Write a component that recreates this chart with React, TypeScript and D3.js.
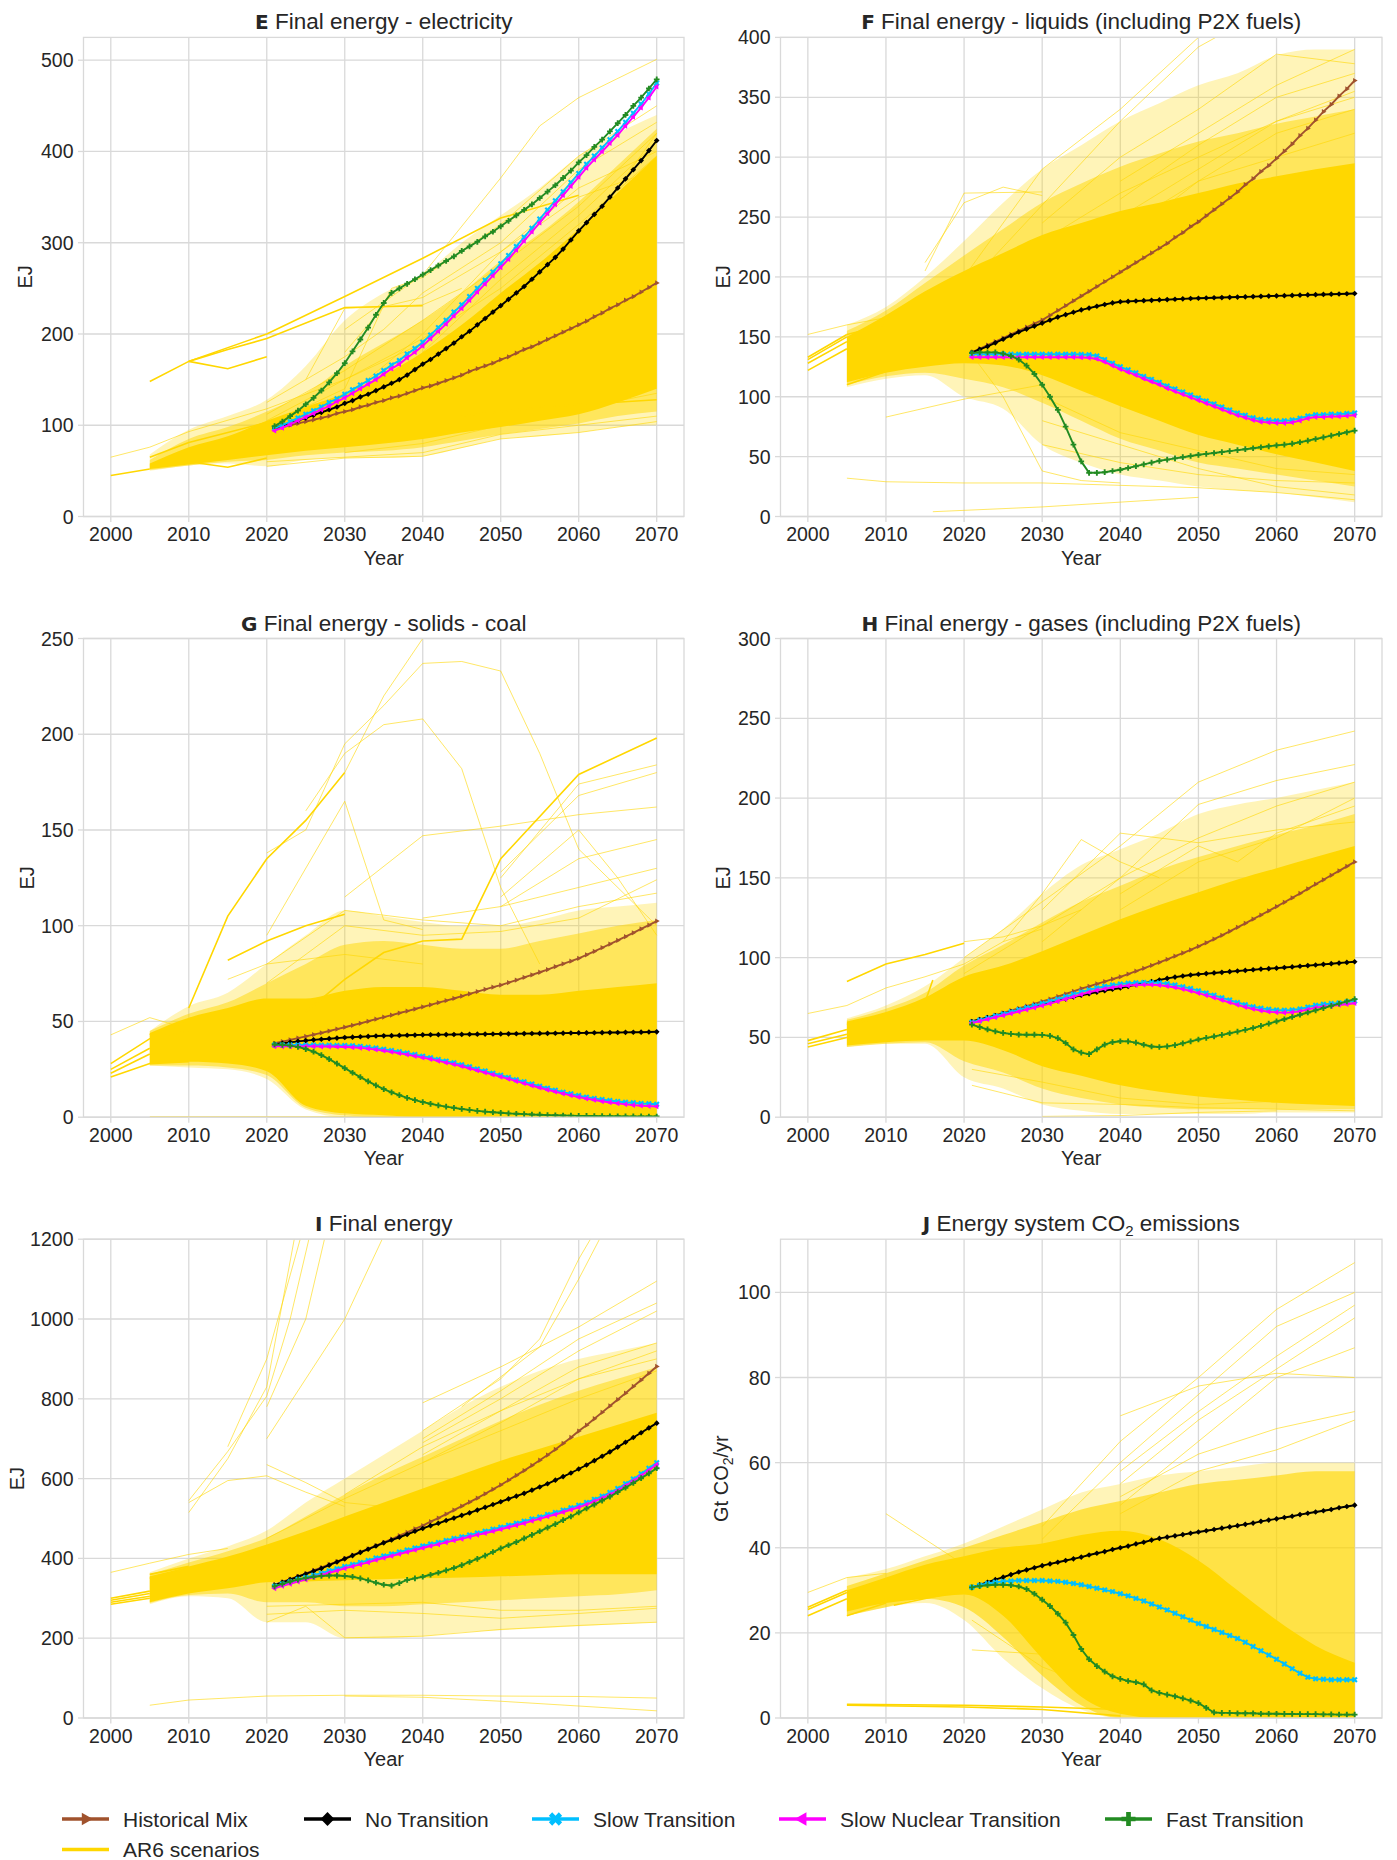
import React from 'react';
import * as d3 from 'd3';

// ---------- shared axes ----------
const PATH_YEARS = d3.range(2021, 2071);
const X_TICKS = [2000, 2010, 2020, 2030, 2040, 2050, 2060, 2070];
const X_DOMAIN: [number, number] = [1996.5, 2073.5];

// ---------- E: electricity ----------
const E_TICKS = [0, 100, 200, 300, 400, 500];
const E_HM = [96,98,100,102,104,106,108,110,113,115,117,120,122,125,127,130,132,135,138,141,143,146,149,152,155,159,162,165,168,172,175,179,183,186,190,194,198,202,206,210,214,219,223,228,232,237,241,246,251,256];
const E_NT = [97,100,102,105,108,111,114,117,120,124,127,131,134,138,142,146,150,155,161,167,172,178,184,190,197,203,210,217,224,231,238,245,252,260,268,276,284,293,303,313,322,331,340,350,360,370,380,390,401,412];
const E_ST = [97,100,104,108,112,116,120,125,129,134,139,144,149,154,160,166,171,178,184,191,199,207,215,224,232,241,250,259,268,277,286,296,306,316,326,336,346,356,366,376,386,395,404,413,422,432,442,452,463,475];
const E_SNT = [94,97,101,105,109,113,117,121,126,130,135,140,145,150,156,162,167,174,180,187,195,203,211,220,228,237,246,255,264,273,282,292,302,312,322,332,342,352,362,372,382,391,400,409,418,428,438,448,459,471];
const E_FT = [99,104,110,116,123,130,138,147,157,168,181,194,207,221,234,245,250,255,260,265,270,275,280,285,291,296,301,307,312,318,324,330,336,342,349,356,363,371,379,388,396,405,413,422,431,440,450,459,469,479];
const E_CORE = [[2005,52,58],[2010,57,76],[2015,62,88],[2020,67,105],[2025,72,120],[2030,76,135],[2035,80,155],[2040,85,180],[2045,92,210],[2050,98,245],[2055,105,278],[2060,112,315],[2065,125,355],[2070,140,395]];
const E_MID = [[2005,51,62],[2010,56,85],[2015,60,98],[2020,62,115],[2025,67,135],[2030,70,165],[2035,72,190],[2040,76,215],[2045,83,245],[2050,90,280],[2055,96,310],[2060,102,345],[2065,110,385],[2070,115,425]];
const E_FRINGE = [[2005,50,68],[2010,56,95],[2015,58,110],[2020,55,128],[2025,62,165],[2030,64,215],[2035,64,245],[2040,66,265],[2045,75,300],[2050,85,330],[2055,88,360],[2060,92,395],[2065,98,420],[2070,100,440]];
const E_STRONG = [
  [[2000,45],[2005,52]],
  [[2005,148],[2010,170],[2020,200],[2030,241],[2040,283],[2050,327],[2060,352]],
  [[2010,170],[2015,162],[2020,175]],
  [[2010,170],[2015,183],[2020,195],[2030,229],[2040,231]],
  [[2005,65],[2010,81],[2015,92],[2020,103]],
  [[2010,60],[2015,54],[2020,64]],
  [[2045,110],[2055,120],[2070,128]],
];
const E_FAINT = [
  [[2000,65],[2005,76],[2010,93],[2020,118],[2030,150],[2040,190]],
  [[2030,205],[2040,265],[2050,371],[2055,428],[2060,459],[2070,501]],
  [[2020,125],[2030,175],[2035,205],[2040,245],[2050,300],[2060,380],[2070,432]],
  [[2020,112],[2030,160],[2040,215],[2050,275],[2060,340],[2070,420]],
  [[2025,150],[2030,228],[2035,230],[2040,232],[2045,250]],
  [[2020,100],[2030,140],[2036,250],[2040,262],[2050,320],[2060,395],[2070,450]],
  [[2020,55],[2030,64],[2040,66],[2050,85],[2060,92],[2070,104]],
  [[2020,60],[2030,65],[2040,70],[2050,90],[2060,100],[2070,110]],
  [[2030,70],[2040,80],[2050,100],[2060,118],[2070,135]],
  [[2040,180],[2050,260],[2060,330],[2070,410]],
  [[2030,130],[2040,200],[2050,290],[2060,350],[2070,380]],
  [[2040,150],[2050,210],[2060,300],[2070,420]],
  [[2050,200],[2060,280],[2070,360]],
  [[2020,105],[2030,150],[2040,195],[2050,250],[2060,320],[2070,395]],
  [[2020,95],[2030,120],[2040,160],[2050,220],[2060,290],[2070,370]],
  [[2030,180],[2035,230],[2040,240],[2050,290],[2060,360],[2070,400]],
];

// ---------- F: liquids ----------
const F_TICKS = [0, 50, 100, 150, 200, 250, 300, 350, 400];
const F_HM = [137,140,143,146,149,152,155,158,161,164,168,172,176,180,184,188,192,196,200,204,208,212,216,220,224,228,233,237,242,246,251,256,261,266,271,277,282,288,293,299,305,311,318,324,331,338,344,351,357,364];
const F_NT = [137,139.5,142,145,148,151,154,156.5,159,161.5,164,166.5,168.5,170.5,172.5,174,175.5,177,178.3,179.3,179.6,179.9,180.2,180.5,180.8,181.1,181.4,181.7,182,182.2,182.4,182.6,182.8,183,183.2,183.4,183.6,183.8,184,184.2,184.4,184.6,184.8,185,185.2,185.4,185.6,185.8,186,186.2];
const F_ST = [135.5,135.5,135.5,135.5,135.5,135.5,135.5,135.5,135.5,135.5,135.5,135.5,135.5,135.5,135.3,135,134,131,128,125,122.5,120,117,114.5,112,109,106.5,104,101.5,99,96.5,94,91.5,89,86.5,84.5,82.5,81,80.5,80,80,80.5,82,84,85,85,85.5,85.5,86,86.5];
const F_SNT = [133,133,133,133,133,133,133,133,133,133,133,133,133,133,132.8,132.5,131.5,129,126,123,120.5,118,115,112.5,110,107,104.5,102,99.5,97,94.5,92,89.5,87,84.5,82.5,80.5,79,78.5,78,78,78.5,80,82,83,83,83.5,83.5,84,84.5];
const F_FT = [136.5,137,137,137,136,134,131,126,119,110,100,89,75,60,46,36.5,36.5,37,38,39,40.5,42,43.5,45,46.5,47.5,48.5,49.5,50.5,51.5,52.3,53,53.8,54.6,55.4,56.2,57,57.8,58.6,59.4,60,60.8,62,63.3,64.7,66.1,67.5,68.9,70.3,71.7];
const F_CORE = [[2005,112,150],[2010,120,168],[2015,125,188],[2020,128,205],[2025,126,220],[2030,118,235],[2035,105,245],[2040,92,255],[2045,80,262],[2050,68,270],[2055,60,278],[2060,52,284],[2065,45,290],[2070,38,295]];
const F_MID = [[2005,110,155],[2010,117,172],[2015,120,195],[2020,115,218],[2025,108,240],[2030,95,262],[2035,80,278],[2040,65,292],[2045,55,303],[2050,45,313],[2055,40,320],[2060,35,328],[2065,30,334],[2070,25,340]];
const F_FRINGE = [[2005,108,160],[2010,115,175],[2015,118,200],[2020,100,230],[2025,90,262],[2030,60,290],[2035,45,310],[2040,35,330],[2045,30,345],[2050,25,360],[2055,22,370],[2060,20,385],[2065,16,390],[2070,12,390]];
const F_STRONG = [
  [[2000,122],[2005,140]],
  [[2000,128],[2005,146]],
  [[2000,131],[2005,150]],
  [[2000,133],[2005,152]],
  [[2005,110],[2010,121]],
  [[2005,152],[2010,160]],
];
const F_FAINT = [
  [[2000,152],[2005,160],[2010,166]],
  [[2015,205],[2020,270],[2030,271]],
  [[2015,212],[2020,262],[2025,275],[2030,268]],
  [[2020,200],[2030,290],[2040,340],[2050,400],[2052,410]],
  [[2020,190],[2030,260],[2040,330],[2050,392],[2055,410]],
  [[2030,245],[2040,300],[2050,340],[2060,386],[2070,378]],
  [[2040,280],[2050,320],[2060,360],[2070,390]],
  [[2040,265],[2050,310],[2060,350],[2070,370]],
  [[2040,250],[2050,290],[2060,330],[2070,355]],
  [[2005,32],[2010,29],[2020,28],[2030,28],[2040,26],[2050,24],[2060,20],[2070,14]],
  [[2016,4],[2030,8],[2040,12],[2050,16]],
  [[2010,83],[2020,98],[2030,110]],
  [[2021,135],[2025,100],[2030,38],[2035,30],[2040,28]],
  [[2030,60],[2040,45],[2050,35],[2060,30],[2070,28]],
  [[2030,80],[2040,60],[2050,40],[2060,25],[2070,18]],
  [[2020,140],[2030,175],[2040,230],[2050,280],[2060,320],[2070,340]],
  [[2020,160],[2030,200],[2040,240],[2050,280],[2060,300],[2070,320]],
  [[2020,180],[2030,230],[2040,270],[2050,300],[2060,330],[2070,350]],
  [[2030,100],[2040,70],[2050,55],[2060,40],[2070,35]],
];

// ---------- G: solids - coal ----------
const G_TICKS = [0, 50, 100, 150, 200, 250];
const G_HM = [38.6,39.5,40.4,41.3,42.2,43.1,44,45,46,47,48,49,50.1,51.2,52.3,53.3,54.4,55.4,56.5,57.6,58.7,59.8,60.9,62,63.2,64.4,65.6,66.8,67.9,69,70.3,71.6,73,74.3,75.7,77.1,78.6,80.1,81.5,83,84.8,86.6,88.5,90.4,92.3,94.3,96.3,98.3,100.3,102.4];
const G_NT = [38,38.6,39.1,39.6,40,40.4,40.7,41,41.3,41.6,41.8,42,42.2,42.4,42.5,42.6,42.7,42.8,42.9,43,43.05,43.1,43.15,43.2,43.25,43.3,43.35,43.4,43.45,43.5,43.55,43.6,43.65,43.7,43.75,43.8,43.85,43.9,43.95,44,44.05,44.1,44.15,44.2,44.25,44.3,44.35,44.4,44.5,44.6];
const G_ST = [37.7,37.7,37.7,37.7,37.7,37.7,37.6,37.6,37.5,37.5,37.3,37,36.6,36.1,35.5,34.9,34.2,33.5,32.7,31.9,31.1,30.2,29.3,28.4,27.4,26.3,25.2,24.1,23,21.9,20.8,19.6,18.5,17.3,16.2,15.1,14.1,13.1,12.2,11.3,10.5,9.8,9.2,8.7,8.2,7.8,7.5,7.2,7,6.8];
const G_SNT = [37,37,37,37,37,37,36.9,36.9,36.8,36.7,36.5,36.2,35.8,35.3,34.7,34.1,33.4,32.7,31.9,31.1,30.3,29.4,28.5,27.6,26.6,25.5,24.4,23.3,22.2,21.1,20,18.8,17.7,16.5,15.4,14.3,13.3,12.3,11.4,10.5,9.7,9,8.3,7.7,7.2,6.7,6.3,6,5.8,5.6];
const G_FT = [38,37.8,37.4,36.7,35.6,34.2,32.4,30.3,28,25.6,23.2,20.9,18.7,16.6,14.7,13,11.5,10.1,8.9,7.9,7,6.2,5.5,4.9,4.3,3.8,3.3,2.9,2.6,2.3,2,1.8,1.6,1.4,1.3,1.1,1,0.9,0.8,0.7,0.65,0.6,0.55,0.5,0.48,0.45,0.42,0.4,0.38,0.35];
const G_CORE = [[2005,28,44],[2010,29,52],[2015,28,57],[2020,24,62],[2025,6,62],[2030,2,66],[2035,1,68],[2040,0,68],[2045,0,66],[2050,0,64],[2055,0,64],[2060,0,66],[2065,0,68],[2070,0,70]];
const G_MID = [[2005,27,45],[2010,27,54],[2015,26,60],[2020,22,70],[2025,5,80],[2030,1,90],[2035,0,92],[2040,0,90],[2045,0,88],[2050,0,88],[2055,0,92],[2060,0,96],[2065,0,100],[2070,0,103]];
const G_FRINGE = [[2005,27,45],[2010,26,58],[2015,25,65],[2020,20,80],[2025,4,95],[2030,0,108],[2035,0,105],[2040,0,102],[2045,0,100],[2050,0,100],[2055,0,103],[2060,0,108],[2065,0,110],[2070,0,112]];
const G_STRONG = [
  [[2000,21],[2005,28],[2010,29]],
  [[2000,23],[2005,33]],
  [[2000,25],[2005,36]],
  [[2000,28],[2005,41],[2010,45]],
  [[2005,43],[2010,50]],
  [[2010,57],[2015,105],[2020,135],[2025,155],[2030,180]],
  [[2015,82],[2020,92],[2025,100],[2030,106]],
  [[2025,55],[2030,72],[2035,86],[2040,92],[2045,93],[2050,135],[2060,179],[2070,198]],
];
const G_FAINT = [
  [[2000,43],[2005,52],[2010,46]],
  [[2030,180],[2035,220],[2040,250]],
  [[2020,138],[2025,150],[2030,195],[2035,215],[2040,237],[2045,238],[2050,233],[2055,190],[2060,140],[2070,100]],
  [[2025,160],[2030,190],[2035,205],[2040,208],[2045,182],[2050,120],[2055,80]],
  [[2020,95],[2030,165],[2035,103],[2040,98]],
  [[2030,115],[2040,147],[2050,152],[2060,158],[2070,162]],
  [[2050,125],[2060,174],[2070,184]],
  [[2050,128],[2060,168],[2070,180]],
  [[2050,115],[2060,150],[2065,125],[2070,95]],
  [[2050,110],[2060,135],[2070,145]],
  [[2040,104],[2050,110],[2060,120],[2070,130]],
  [[2020,80],[2030,108],[2040,103],[2050,100],[2060,110],[2070,117]],
  [[2020,70],[2030,100],[2040,95],[2050,97],[2060,104],[2070,124]],
  [[2005,0.3],[2070,0.3]],
  [[2015,72],[2020,80],[2030,85],[2040,80]],
];

// ---------- H: gases ----------
const H_TICKS = [0, 50, 100, 150, 200, 250, 300];
const H_HM = [60,61.3,62.6,64,65.4,66.8,68.2,69.6,71,72.5,74,75.6,77.2,78.9,80.6,82,83.5,85,86.5,88,89.7,91.5,93.3,95.1,97,98.9,100.9,102.9,104.9,107,109.3,111.6,114,116.5,119,121.5,124.1,126.7,129.3,132,134.7,137.4,140.2,143.1,146,148.8,151.6,154.4,157.2,160];
const H_NT = [60,61.2,62.4,63.6,64.8,66,67.2,68.4,69.6,70.8,72,73.1,74.2,75.3,76.4,77.4,78.4,79.3,80.2,81,82,83,84,85,86,87,87.8,88.5,89.1,89.6,90,90.4,90.8,91.2,91.6,92,92.4,92.8,93.1,93.4,93.8,94.2,94.6,95,95.4,95.8,96.2,96.6,97,97.4];
const H_ST = [59.5,60.8,62.1,63.4,64.7,66,67.3,68.6,69.9,71.2,72.6,74,75.5,77,78.5,79.8,81,82,82.8,83.5,84,84.3,84.5,84.5,84.2,83.6,82.8,81.8,80.6,79.3,77.9,76.4,74.9,73.4,71.9,70.5,69.3,68.3,67.6,67.2,67,67.2,67.8,69,70.2,70.8,71.2,71.6,72.2,72.8];
const H_SNT = [59,60.2,61.4,62.6,63.8,65,66.2,67.4,68.6,69.9,71.2,72.6,74,75.5,77,78.3,79.5,80.5,81.3,82,82.5,82.8,83,83,82.7,82.1,81.3,80.3,79.1,77.8,76.4,74.9,73.4,71.9,70.4,69,67.8,66.8,66.1,65.7,65.5,65.7,66.3,67.5,68.7,69.3,69.8,70.3,70.8,71.4];
const H_FT = [58,56.5,55,53.8,52.8,52.2,51.8,51.7,51.7,51.6,51,49.5,46.5,42.5,40.5,39.5,42.5,45.5,47,47.6,47.5,46.7,45.4,44.3,44,44.4,45.2,46.3,47.5,48.7,49.7,50.6,51.6,52.6,53.6,54.7,55.9,57.2,58.6,60,61.4,62.8,64.2,65.6,67,68.4,69.8,71.2,72.6,74];
const H_CORE = [[2005,45,60],[2010,47,66],[2015,48,75],[2020,48,88],[2025,42,95],[2030,32,104],[2035,26,114],[2040,20,124],[2045,16,133],[2050,13,141],[2055,11,149],[2060,9,156],[2065,8,163],[2070,7,170]];
const H_MID = [[2005,44,61],[2010,46,68],[2015,47,78],[2020,35,95],[2025,28,108],[2030,18,122],[2035,12,135],[2040,8,145],[2045,6,155],[2050,5,163],[2055,5,170],[2060,5,177],[2065,5,183],[2070,5,190]];
const H_FRINGE = [[2005,44,62],[2010,46,70],[2015,46,82],[2020,25,100],[2025,18,118],[2030,8,140],[2035,4,158],[2040,2,168],[2045,2,178],[2050,2,190],[2055,2,196],[2060,3,200],[2065,3,205],[2070,3,210]];
const H_STRONG = [
  [[2000,44],[2005,50]],
  [[2000,46],[2005,52]],
  [[2000,48],[2005,55]],
  [[2005,85],[2010,96],[2015,102],[2020,109]],
  [[2005,58],[2010,63],[2015,72],[2016,86]],
];
const H_FAINT = [
  [[2000,65],[2005,70],[2010,81],[2015,88],[2020,96],[2025,110],[2030,118]],
  [[2020,110],[2025,113],[2030,120],[2035,130]],
  [[2025,110],[2030,140],[2035,174],[2040,160],[2045,150]],
  [[2030,130],[2040,178],[2050,172],[2060,180],[2070,185]],
  [[2020,100],[2030,135],[2040,170],[2050,210],[2060,230],[2070,242]],
  [[2030,110],[2040,150],[2050,196],[2060,211],[2070,221]],
  [[2040,140],[2050,170],[2055,160],[2060,178],[2070,195]],
  [[2040,130],[2050,160],[2060,175],[2070,200]],
  [[2021,20],[2030,9],[2040,8],[2050,6],[2060,5],[2070,4]],
  [[2030,0.5],[2040,1],[2050,3],[2060,4]],
  [[2021,30],[2030,22],[2040,12],[2050,8],[2060,10],[2070,12]],
  [[2020,90],[2030,120],[2040,150],[2050,175],[2060,195],[2070,210]],
];

// ---------- I: final energy ----------
const I_TICKS = [0, 200, 400, 600, 800, 1000, 1200];
const I_HM = [334,341,348,355,362,370,377,385,392,400,408,416,424,432,440,448,457,465,474,482,492,501,511,521,531,541,551,562,573,584,596,608,620,633,646,659,673,688,703,719,734,750,766,782,798,814,831,847,864,881];
const I_NT = [333,340,347,354,361,368,375,383,391,399,407,415,423,431,439,446,453,460,468,475,482,488,495,501,508,514,521,528,535,542,549,556,563,571,579,587,596,605,614,624,634,645,656,667,679,691,703,715,727,739];
const I_ST = [330,336,341,347,352,358,363,369,374,380,385,390,395,401,406,411,416,421,426,431,436,440,445,450,454,459,464,468,473,478,483,488,493,499,504,510,515,521,527,533,540,548,556,565,575,587,599,612,626,640];
const I_SNT = [325,331,336,342,347,353,358,364,369,375,380,385,390,396,401,406,411,416,421,426,431,435,440,445,449,454,459,463,468,473,478,483,488,494,499,505,510,516,522,528,535,543,551,560,570,582,594,607,621,635];
const I_FT = [330,336,342,347,351,354,356,357,357,356,354,350,345,339,334,332,338,346,350,354,359,364,370,376,383,391,399,407,416,425,433,441,450,459,468,477,486,496,505,515,525,535,545,555,566,577,589,601,613,626];
const I_CORE = [[2005,290,355],[2010,312,380],[2015,325,405],[2020,340,435],[2025,342,468],[2030,345,505],[2035,348,540],[2040,350,575],[2045,352,610],[2050,355,645],[2055,358,675],[2060,360,705],[2065,360,735],[2070,360,765]];
const I_MID = [[2005,288,360],[2010,308,390],[2015,312,418],[2020,290,452],[2025,290,505],[2030,280,560],[2035,280,610],[2040,285,655],[2045,290,700],[2050,295,745],[2055,300,785],[2060,305,820],[2065,310,850],[2070,320,880]];
const I_FRINGE = [[2005,285,365],[2010,305,400],[2015,300,430],[2020,240,470],[2025,240,540],[2030,200,600],[2035,200,660],[2040,205,720],[2045,215,780],[2050,220,830],[2055,225,870],[2060,230,900],[2065,235,920],[2070,240,940]];
const I_STRONG = [
  [[2000,285],[2005,300]],
  [[2000,290],[2005,305]],
  [[2000,295],[2005,312]],
  [[2000,300],[2005,318]],
  [[2005,350],[2010,372]],
  [[2005,360],[2010,380]],
];
const I_FAINT = [
  [[2000,365],[2005,388],[2010,410],[2015,425]],
  [[2010,545],[2015,668],[2020,807],[2023,1000],[2026,1250]],
  [[2010,515],[2015,650],[2020,830],[2024,1250]],
  [[2015,680],[2020,900],[2025,1250]],
  [[2020,780],[2025,1000],[2028,1250]],
  [[2020,700],[2030,1000],[2036,1250]],
  [[2010,540],[2015,595],[2020,607],[2025,566],[2030,530]],
  [[2020,635],[2025,590],[2030,540],[2040,520]],
  [[2040,720],[2050,850],[2055,950],[2060,1150],[2063,1250]],
  [[2045,780],[2055,930],[2060,1100],[2064,1250]],
  [[2040,790],[2050,880],[2060,980],[2070,1095]],
  [[2040,700],[2050,820],[2060,950],[2070,1040]],
  [[2040,690],[2050,800],[2060,920],[2070,1020]],
  [[2040,660],[2050,770],[2060,880],[2070,940]],
  [[2040,640],[2050,740],[2060,850],[2070,920]],
  [[2005,32],[2010,45],[2020,55],[2030,57],[2040,57],[2050,55],[2060,54],[2070,50]],
  [[2030,55],[2040,52],[2050,42],[2060,30],[2070,18]],
  [[2020,240],[2025,280],[2030,201],[2040,205],[2050,222],[2060,232],[2070,240]],
  [[2020,260],[2030,270],[2040,262],[2050,250],[2060,262],[2070,275]],
  [[2020,280],[2030,285],[2040,290],[2050,270],[2060,270],[2070,280]],
  [[2020,450],[2030,550],[2040,640],[2050,720],[2060,800],[2070,870]],
  [[2030,560],[2040,680],[2050,770],[2060,850],[2070,900]],
];

// ---------- J: CO2 emissions ----------
const J_TICKS = [0, 20, 40, 60, 80, 100];
const J_NT = [30.7,31.3,31.9,32.5,33.1,33.7,34.3,34.8,35.3,35.8,36.2,36.6,37,37.4,37.8,38.3,38.7,39.1,39.6,40,40.4,40.9,41.3,41.8,42.2,42.5,42.8,43.1,43.4,43.7,44,44.3,44.6,44.9,45.2,45.5,45.8,46.2,46.5,46.8,47.1,47.4,47.8,48.1,48.4,48.7,49,49.4,49.7,50];
const J_ST = [30.7,31.2,31.6,31.9,32.1,32.2,32.3,32.3,32.3,32.3,32.2,32.1,31.9,31.6,31.3,30.9,30.5,30.1,29.7,29.2,28.7,28.1,27.5,26.8,26.1,25.4,24.6,23.8,23,22.2,21.5,20.8,20.1,19.4,18.7,17.8,16.8,15.8,14.8,13.8,12.7,11.6,10.5,9.6,9.2,9.1,9,9,9,9];
const J_FT = [30.7,31,31.2,31.3,31.3,31.2,30.9,30.3,29.2,27.8,26.3,24.5,22.4,19.5,16.2,13.8,12.2,10.9,9.8,9.2,8.7,8.4,7.9,6.5,5.9,5.5,5.1,4.6,4.1,3.5,2.4,1.3,1.2,1.2,1.1,1.1,1.1,1,1,1,0.95,0.95,0.9,0.9,0.9,0.85,0.85,0.8,0.8,0.8];
const J_CORE = [[2005,25,30],[2010,27,33],[2015,28,36],[2020,29,38],[2025,24,40],[2030,14,41],[2035,5,43],[2040,1,44],[2045,0,42],[2050,0,37],[2055,0,30],[2060,0,23],[2065,0,17],[2070,0,13]];
const J_MID = [[2005,24,31],[2010,26,34],[2015,28,37],[2020,26,40],[2025,19,43],[2030,10,46],[2035,3,49],[2040,0,51],[2045,0,53],[2050,0,55],[2055,0,56],[2060,0,57],[2065,0,58],[2070,0,58]];
const J_FRINGE = [[2005,24,33],[2010,26,35],[2015,27,38],[2020,23,41],[2025,14,45],[2030,7,49],[2035,2,53],[2040,0,55],[2045,0,57],[2050,0,58],[2055,0,59],[2060,0,60],[2065,0,60],[2070,0,60]];
const J_STRONG = [
  [[2000,24],[2005,28]],
  [[2000,26],[2005,30]],
  [[2000,25.5],[2005,29.5]],
  [[2005,3],[2020,2.6],[2030,2],[2040,0.5]],
  [[2005,3.2],[2020,3],[2030,2.6],[2040,2]],
  [[2005,24],[2010,27]],
  [[2011,26.5],[2020,30]],
];
const J_FAINT = [
  [[2000,29.5],[2005,33],[2010,34]],
  [[2010,48],[2015,42],[2020,36]],
  [[2030,45],[2040,65],[2050,80],[2060,96],[2070,107]],
  [[2030,42],[2040,60],[2050,76],[2060,92],[2070,100]],
  [[2040,58],[2050,72],[2060,85],[2070,97]],
  [[2040,55],[2050,70],[2060,82],[2070,94]],
  [[2040,71],[2050,78],[2060,81],[2070,80]],
  [[2040,50],[2050,65],[2060,80],[2070,87]],
  [[2040,52],[2050,62],[2060,68],[2070,72]],
  [[2040,48],[2050,58],[2060,63],[2070,70]],
  [[2021,16],[2030,15],[2040,3]],
  [[2021,23],[2030,12],[2040,5]],
];

// ---------- styling ----------
const FONT = "'Liberation Sans', Arial, Helvetica, sans-serif";
const TEXT = '#262626';
const GRID = '#d9d9d9';
const GOLD = '#FFD700';

const SERIES = [
  { key: 'hm', name: 'Historical Mix', color: '#A0522D' },
  { key: 'nt', name: 'No Transition', color: '#000000' },
  { key: 'st', name: 'Slow Transition', color: '#00BFFF' },
  { key: 'snt', name: 'Slow Nuclear Transition', color: '#FF00FF' },
  { key: 'ft', name: 'Fast Transition', color: '#228B22' },
];

const SYMBOLS: Record<string, { type: d3.SymbolType; rot: number; area: number }> = {
  hm: { type: d3.symbolTriangle, rot: 90, area: 12 },
  nt: { type: d3.symbolSquare, rot: 45, area: 16 },
  st: { type: d3.symbolCross, rot: 45, area: 22 },
  snt: { type: d3.symbolTriangle, rot: -90, area: 14 },
  ft: { type: d3.symbolCross, rot: 0, area: 18 },
};

const COLS = [{ x0: 83.5, x1: 684 }, { x0: 780.5, x1: 1382 }];
const ROWS = [{ y0: 37.4, y1: 516.5 }, { y0: 638.5, y1: 1117.2 }, { y0: 1239.2, y1: 1718 }];

type Cfg = {
  letter: string;
  title: React.ReactNode;
  yLabel: React.ReactNode;
  yMax: number;
  yTicks: number[];
  yLabelOffset: number;
  series: Record<string, number[]>;
  core: number[][];
  mid: number[][];
  midOpacity: number;
  fringe: number[][];
  strong: number[][][];
  faint: number[][][];
  col: number;
  row: number;
};

const PANELS: Cfg[] = [
  { letter: 'E', title: 'Final energy - electricity', yLabel: 'EJ', yMax: 525, yTicks: E_TICKS, yLabelOffset: 59,
    series: { hm: E_HM, nt: E_NT, st: E_ST, snt: E_SNT, ft: E_FT }, core: E_CORE, mid: E_MID, midOpacity: 0.5, fringe: E_FRINGE,
    strong: E_STRONG, faint: E_FAINT, col: 0, row: 0 },
  { letter: 'F', title: 'Final energy - liquids (including P2X fuels)', yLabel: 'EJ', yMax: 400, yTicks: F_TICKS, yLabelOffset: 58,
    series: { hm: F_HM, nt: F_NT, st: F_ST, snt: F_SNT, ft: F_FT }, core: F_CORE, mid: F_MID, midOpacity: 0.5, fringe: F_FRINGE,
    strong: F_STRONG, faint: F_FAINT, col: 1, row: 0 },
  { letter: 'G', title: 'Final energy - solids - coal', yLabel: 'EJ', yMax: 250, yTicks: G_TICKS, yLabelOffset: 57,
    series: { hm: G_HM, nt: G_NT, st: G_ST, snt: G_SNT, ft: G_FT }, core: G_CORE, mid: G_MID, midOpacity: 0.5, fringe: G_FRINGE,
    strong: G_STRONG, faint: G_FAINT, col: 0, row: 1 },
  { letter: 'H', title: 'Final energy - gases (including P2X fuels)', yLabel: 'EJ', yMax: 300, yTicks: H_TICKS, yLabelOffset: 58,
    series: { hm: H_HM, nt: H_NT, st: H_ST, snt: H_SNT, ft: H_FT }, core: H_CORE, mid: H_MID, midOpacity: 0.5, fringe: H_FRINGE,
    strong: H_STRONG, faint: H_FAINT, col: 1, row: 1 },
  { letter: 'I', title: 'Final energy', yLabel: 'EJ', yMax: 1200, yTicks: I_TICKS, yLabelOffset: 67,
    series: { hm: I_HM, nt: I_NT, st: I_ST, snt: I_SNT, ft: I_FT }, core: I_CORE, mid: I_MID, midOpacity: 0.5, fringe: I_FRINGE,
    strong: I_STRONG, faint: I_FAINT, col: 0, row: 2 },
  { letter: 'J',
    title: (<>{'Energy system CO'}<tspan dy={5} fontSize={15}>2</tspan><tspan dy={-5}>{' emissions'}</tspan></>),
    yLabel: (<>{'Gt CO'}<tspan dy={5} fontSize={14}>2</tspan><tspan dy={-5}>{'/yr'}</tspan></>),
    yMax: 112.5, yTicks: J_TICKS, yLabelOffset: 60,
    series: { nt: J_NT, st: J_ST, ft: J_FT }, core: J_CORE, mid: J_MID, midOpacity: 0.62, fringe: J_FRINGE,
    strong: J_STRONG, faint: J_FAINT, col: 1, row: 2 },
];

function symbolPath(key: string, area?: number) {
  const s = SYMBOLS[key];
  return d3.symbol().type(s.type).size(area ?? s.area)() as string;
}

function Panel({ cfg }: { cfg: Cfg }) {
  const { x0, x1 } = COLS[cfg.col];
  const { y0, y1 } = ROWS[cfg.row];
  const x = d3.scaleLinear().domain(X_DOMAIN).range([x0, x1]);
  const y = d3.scaleLinear().domain([0, cfg.yMax]).range([y1, y0]);
  const clipId = `clip-${cfg.letter}`;

  const band = d3.area<number[]>()
    .x((d) => x(d[0]))
    .y0((d) => y(d[1]))
    .y1((d) => y(d[2]))
    .curve(d3.curveMonotoneX);
  const trace = d3.line<number[]>().x((d) => x(d[0])).y((d) => y(d[1]));
  const pathLine = d3.line<number>().x((_, i) => x(PATH_YEARS[i])).y((d) => y(d));

  const cx = (x0 + x1) / 2;
  const cy = (y0 + y1) / 2;

  return (
    <g>
      <defs>
        <clipPath id={clipId}>
          <rect x={x0} y={y0} width={x1 - x0} height={y1 - y0} />
        </clipPath>
      </defs>
      {/* grid */}
      {X_TICKS.map((t) => (
        <line key={`gx${t}`} x1={x(t)} x2={x(t)} y1={y0} y2={y1} stroke={GRID} strokeWidth={1.3} />
      ))}
      {cfg.yTicks.map((t) => (
        <line key={`gy${t}`} x1={x0} x2={x1} y1={y(t)} y2={y(t)} stroke={GRID} strokeWidth={1.3} />
      ))}
      {/* AR6 scenario ensemble: envelope layers plus individual runs */}
      <g clipPath={`url(#${clipId})`}>
        <path d={band(cfg.fringe) as string} fill={GOLD} opacity={0.28} />
        <path d={band(cfg.mid) as string} fill={GOLD} opacity={cfg.midOpacity} />
        {cfg.faint.map((l, i) => (
          <path key={`f${i}`} d={trace(l) as string} fill="none" stroke={GOLD} strokeWidth={1} opacity={0.6} />
        ))}
        <path d={band(cfg.core) as string} fill={GOLD} />
        {cfg.strong.map((l, i) => (
          <path key={`s${i}`} d={trace(l) as string} fill="none" stroke={GOLD} strokeWidth={1.6} />
        ))}
        {/* modelled pathways */}
        {SERIES.filter((s) => cfg.series[s.key]).map((s) => {
          const vals = cfg.series[s.key];
          const sym = symbolPath(s.key);
          return (
            <g key={s.key}>
              <path d={pathLine(vals) as string} fill="none" stroke={s.color} strokeWidth={1.9} />
              {vals.map((v, i) => (
                <path key={i} d={sym} fill={s.color}
                  transform={`translate(${x(PATH_YEARS[i])},${y(v)}) rotate(${SYMBOLS[s.key].rot})`} />
              ))}
            </g>
          );
        })}
      </g>
      {/* frame */}
      <rect x={x0} y={y0} width={x1 - x0} height={y1 - y0} fill="none" stroke={GRID} strokeWidth={1.3} />
      {/* ticks */}
      {X_TICKS.map((t) => (
        <g key={`tx${t}`}>
          <line x1={x(t)} x2={x(t)} y1={y1} y2={y1 + 5.5} stroke={GRID} strokeWidth={1.3} />
          <text x={x(t)} y={y1 + 24.5} textAnchor="middle" fontSize={19.5} fill={TEXT}>{t}</text>
        </g>
      ))}
      {cfg.yTicks.map((t) => (
        <g key={`ty${t}`}>
          <line x1={x0 - 5.5} x2={x0} y1={y(t)} y2={y(t)} stroke={GRID} strokeWidth={1.3} />
          <text x={x0 - 10} y={y(t) + 7} textAnchor="end" fontSize={19.5} fill={TEXT}>{t}</text>
        </g>
      ))}
      {/* labels */}
      <text x={cx} y={y1 + 48} textAnchor="middle" fontSize={20} fill={TEXT}>Year</text>
      <text transform={`translate(${x0 - cfg.yLabelOffset + 7},${cy}) rotate(-90)`} textAnchor="middle" fontSize={20} fill={TEXT}>
        {cfg.yLabel}
      </text>
      <text x={cx} y={y0 - 8} textAnchor="middle" fontSize={22.5} fill={TEXT}>
        <tspan fontFamily="'DejaVu Sans'" fontWeight="bold" fontSize={20}>{cfg.letter}</tspan>
        <tspan>{' '}</tspan>
        {typeof cfg.title === 'string' ? <tspan>{cfg.title}</tspan> : cfg.title}
      </text>
    </g>
  );
}

const LEGEND_ROW1 = [
  { key: 'hm', hx: 62 },
  { key: 'nt', hx: 304 },
  { key: 'st', hx: 532 },
  { key: 'snt', hx: 779 },
  { key: 'ft', hx: 1105 },
];

function Legend() {
  const cy1 = 1819;
  const cy2 = 1849.5;
  const legendArea: Record<string, number> = { hm: 70, nt: 95, st: 110, snt: 80, ft: 110 };
  return (
    <g>
      {LEGEND_ROW1.map((it) => {
        const s = SERIES.find((d) => d.key === it.key)!;
        return (
          <g key={it.key}>
            <line x1={it.hx} x2={it.hx + 47} y1={cy1} y2={cy1} stroke={s.color} strokeWidth={3.5} />
            <path d={symbolPath(it.key, legendArea[it.key])} fill={s.color}
              transform={`translate(${it.hx + 23.5},${cy1}) rotate(${SYMBOLS[it.key].rot})`} />
            <text x={it.hx + 61} y={cy1 + 7.5} fontSize={21} fill={TEXT}>{s.name}</text>
          </g>
        );
      })}
      <line x1={62} x2={109} y1={cy2} y2={cy2} stroke={GOLD} strokeWidth={3.5} />
      <text x={123} y={cy2 + 7.5} fontSize={21} fill={TEXT}>AR6 scenarios</text>
    </g>
  );
}

export default function App() {
  return (
    <svg width={1397} height={1860} viewBox="0 0 1397 1860"
      style={{ position: 'absolute', left: 0, top: 0, display: 'block', background: '#fff' }}
      fontFamily={FONT}>
      {PANELS.map((p) => <Panel key={p.letter} cfg={p} />)}
      <Legend />
    </svg>
  );
}
